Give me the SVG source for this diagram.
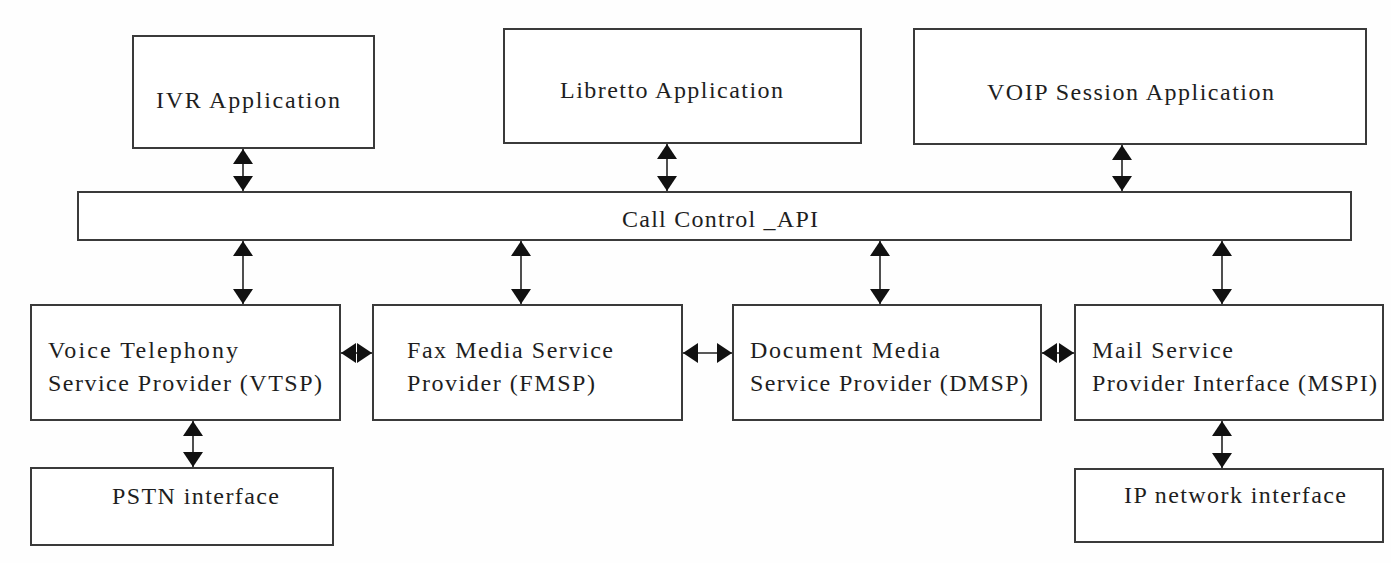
<svg xmlns="http://www.w3.org/2000/svg" width="1391" height="563" viewBox="0 0 1391 563">
<style>
.box{fill:#ffffff;stroke:#3a3a3a;stroke-width:2}
.t{font-family:"Liberation Serif","Times New Roman",serif;font-size:24px;fill:#1e1e1e}
.c{stroke:#222;stroke-width:1.6;fill:none;marker-start:url(#ah);marker-end:url(#ah)}
</style>
<defs>
<marker id="ah" viewBox="0 0 15 20" refX="15" refY="10" markerWidth="15" markerHeight="20" markerUnits="userSpaceOnUse" orient="auto-start-reverse">
<path d="M0,0 L15,10 L0,20 z" fill="#111"/>
</marker>
</defs>
<rect width="1391" height="563" fill="#fefefe"/>
<g id="ivr"><rect class="box" x="133" y="36" width="241" height="112"/><text class="t" x="156" y="108" textLength="184" lengthAdjust="spacing">IVR Application</text></g>
<g id="libretto"><rect class="box" x="504" y="29" width="357" height="114"/><text class="t" x="560" y="98" textLength="223" lengthAdjust="spacing">Libretto Application</text></g>
<g id="voip"><rect class="box" x="914" y="29" width="452" height="115"/><text class="t" x="987" y="100" textLength="287" lengthAdjust="spacing">VOIP Session Application</text></g>
<g id="callcontrol"><rect class="box" x="78" y="192" width="1273" height="48"/><text class="t" x="622" y="227" textLength="196" lengthAdjust="spacing">Call Control _API</text></g>
<g id="vtsp"><rect class="box" x="31" y="305" width="309" height="115"/><text class="t" x="48" y="358" textLength="190" lengthAdjust="spacing">Voice Telephony</text><text class="t" x="48" y="391" textLength="274" lengthAdjust="spacing">Service Provider (VTSP)</text></g>
<g id="fmsp"><rect class="box" x="373" y="305" width="309" height="115"/><text class="t" x="407" y="358" textLength="206" lengthAdjust="spacing">Fax Media Service</text><text class="t" x="407" y="391" textLength="188" lengthAdjust="spacing">Provider (FMSP)</text></g>
<g id="dmsp"><rect class="box" x="733" y="305" width="308" height="115"/><text class="t" x="750" y="358" textLength="190" lengthAdjust="spacing">Document Media</text><text class="t" x="750" y="391" textLength="278" lengthAdjust="spacing">Service Provider (DMSP)</text></g>
<g id="mspi"><rect class="box" x="1075" y="305" width="308" height="115"/><text class="t" x="1092" y="358" textLength="141" lengthAdjust="spacing">Mail Service</text><text class="t" x="1092" y="391" textLength="285" lengthAdjust="spacing">Provider Interface (MSPI)</text></g>
<g id="pstn"><rect class="box" x="31" y="468" width="302" height="77"/><text class="t" x="112" y="504" textLength="167" lengthAdjust="spacing">PSTN interface</text></g>
<g id="ipnet"><rect class="box" x="1075" y="469" width="308" height="73"/><text class="t" x="1124" y="503" textLength="222" lengthAdjust="spacing">IP network interface</text></g>
<g id="connectors">
<line class="c" x1="243" y1="149" x2="243" y2="191"/>
<line class="c" x1="667" y1="144" x2="667" y2="191"/>
<line class="c" x1="1122" y1="145" x2="1122" y2="191"/>
<line class="c" x1="243" y1="241" x2="243" y2="304"/>
<line class="c" x1="521" y1="241" x2="521" y2="304"/>
<line class="c" x1="880" y1="241" x2="880" y2="304"/>
<line class="c" x1="1222" y1="241" x2="1222" y2="304"/>
<line class="c" x1="193" y1="421" x2="193" y2="467"/>
<line class="c" x1="1222" y1="421" x2="1222" y2="468"/>
<line class="c" x1="341" y1="353" x2="372" y2="353"/>
<line class="c" x1="683" y1="353" x2="732" y2="353"/>
<line class="c" x1="1042" y1="353" x2="1074" y2="353"/>
</g>
</svg>
